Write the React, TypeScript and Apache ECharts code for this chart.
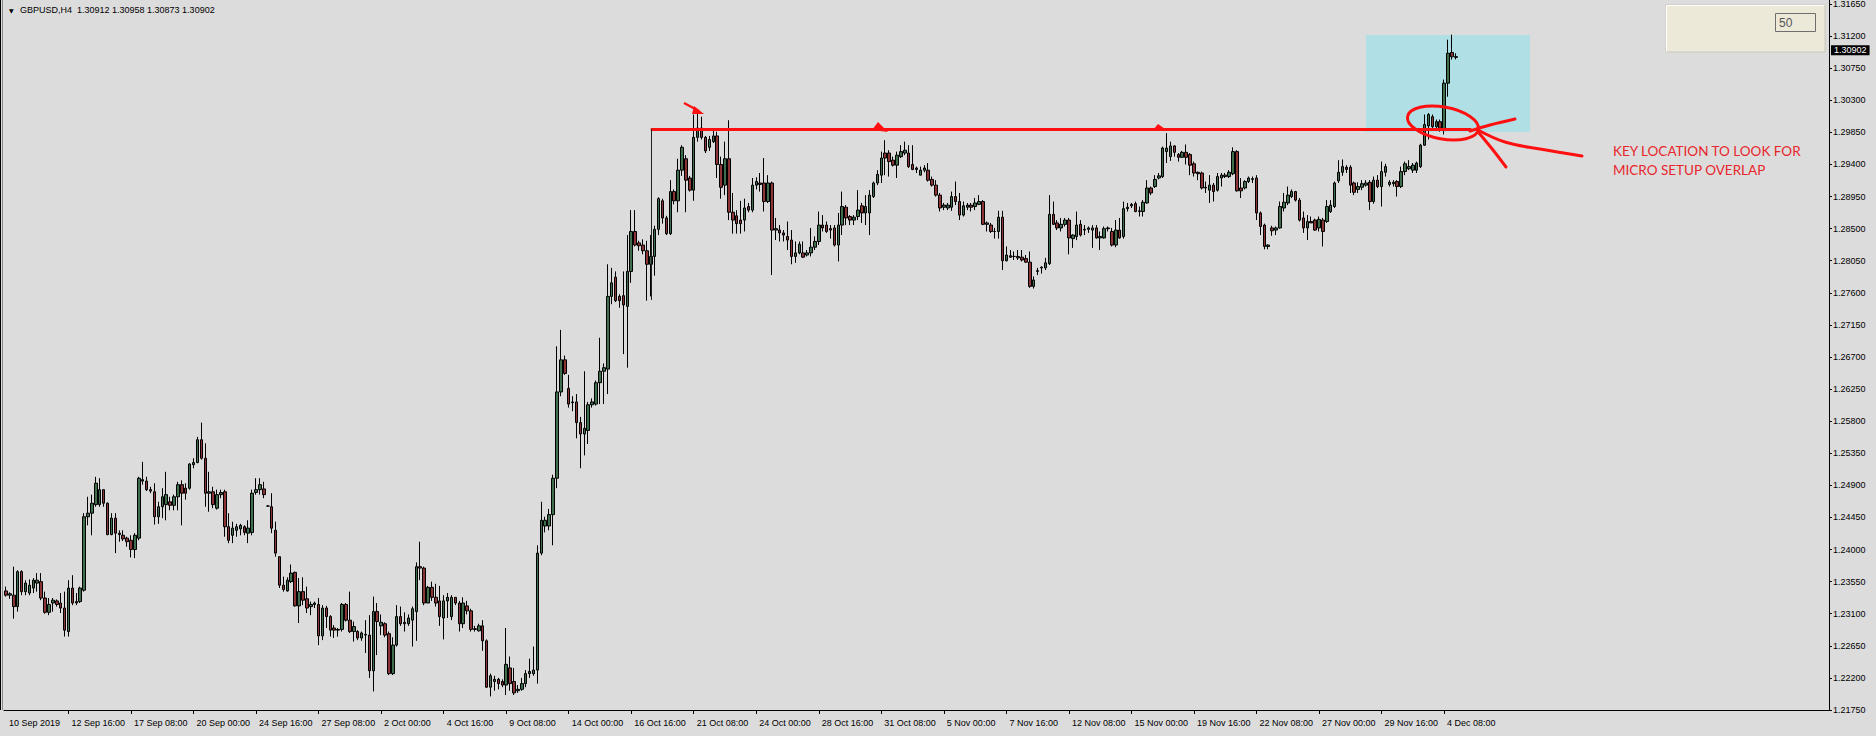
import React, { useEffect, useRef } from "react";
import * as echarts from "echarts";

// ---------- DATA (GBPUSD, H4) ----------
const OPEN = [
1.2342,1.2336,1.2336,1.2320,1.2369,1.2341,1.2339,1.2346,1.2353,1.2355,
1.2332,1.2312,1.2325,1.2328,1.2325,1.2318,1.2285,1.2346,1.2325,1.2327,
1.2343,1.2446,1.2451,1.2463,1.2463,1.2484,1.2465,1.2421,1.2444,1.2423,
1.2420,1.2416,1.2413,1.2400,1.2416,1.2498,1.2496,1.2484,1.2481,1.2446,
1.2460,1.2463,1.2467,1.2462,1.2474,1.2491,1.2486,1.2486,1.2519,1.2522,
1.2554,1.2528,1.2479,1.2481,1.2458,1.2477,1.2481,1.2432,1.2420,1.2427,
1.2429,1.2432,1.2423,1.2424,1.2480,1.2484,1.2485,1.2461,1.2460,1.2427,
1.2390,1.2350,1.2342,1.2355,1.2368,1.2321,1.2341,1.2331,1.2320,1.2323,
1.2323,1.2279,1.2318,1.2306,1.2290,1.2287,1.2288,1.2323,1.2301,1.2285,
1.2285,1.2276,1.2281,1.2280,1.2230,1.2313,1.2293,1.2296,1.2282,1.2226,
1.2266,1.2306,1.2296,1.2296,1.2301,1.2313,1.2376,1.2374,1.2325,1.2347,
1.2333,1.2328,1.2304,1.2328,1.2306,1.2333,1.2325,1.2296,1.2321,1.2314,
1.2288,1.2286,1.2293,1.2272,1.2207,1.2215,1.2218,1.2215,1.2210,1.2234,
1.2215,1.2202,1.2204,1.2212,1.2226,1.2226,1.2231,1.2395,1.2433,1.2433,
1.2449,1.2500,1.2621,1.2666,1.2626,1.2607,1.2607,1.2578,1.2562,1.2567,
1.2603,1.2604,1.2634,1.2650,1.2653,1.2755,1.2782,1.2755,1.2756,1.2741,
1.2790,1.2846,1.2830,1.2827,1.2819,1.2800,1.2811,1.2849,1.2889,1.2865,
1.2843,1.2902,1.2889,1.2932,1.2948,1.2921,1.2904,1.2978,1.2991,1.2978,
1.2964,1.2972,1.2980,1.2940,1.2911,1.2948,1.2873,1.2868,1.2862,1.2862,
1.2881,1.2876,1.2911,1.2914,1.2914,1.2888,1.2914,1.2848,1.2848,1.2844,
1.2839,1.2834,1.2811,1.2816,1.2816,1.2813,1.2816,1.2824,1.2832,1.2855,
1.2855,1.2850,1.2851,1.2827,1.2855,1.2880,1.2867,1.2862,1.2867,1.2882,
1.2872,1.2872,1.2895,1.2914,1.2925,1.2956,1.2956,1.2946,1.2939,1.2951,
1.2956,1.2956,1.2940,1.2933,1.2925,1.2932,1.2932,1.2919,1.2911,1.2897,
1.2880,1.2879,1.2880,1.2895,1.2888,1.2869,1.2880,1.2883,1.2881,1.2884,
1.2888,1.2856,1.2855,1.2846,1.2846,1.2866,1.2805,1.2812,1.2811,1.2811,
1.2810,1.2808,1.2803,1.2769,1.2790,1.2795,1.2795,1.2801,1.2870,1.2858,
1.2851,1.2856,1.2862,1.2836,1.2839,1.2856,1.2848,1.2849,1.2848,1.2851,
1.2837,1.2837,1.2850,1.2846,1.2827,1.2848,1.2839,1.2878,1.2884,1.2885,
1.2874,1.2874,1.2886,1.2907,1.2909,1.2921,1.2923,1.2958,1.2951,1.2966,
1.2954,1.2950,1.2957,1.2954,1.2941,1.2929,1.2928,1.2907,1.2904,1.2911,
1.2904,1.2921,1.2925,1.2923,1.2927,1.2958,1.2907,1.2907,1.2916,1.2920,
1.2921,1.2872,1.2855,1.2825,1.2851,1.2848,1.2851,1.2879,1.2886,1.2895,
1.2902,1.2890,1.2865,1.2851,1.2860,1.2862,1.2851,1.2862,1.2860,1.2874,
1.2881,1.2917,1.2929,1.2936,1.2936,1.2914,1.2905,1.2908,1.2911,1.2915,
1.2888,1.2918,1.2909,1.2929,1.2912,1.2913,1.2916,1.2909,1.2930,1.2934,
1.2932,1.2932,1.2937,1.2967,1.2994,1.3007,1.2993,1.3000,1.2989,1.3054,
1.3097,1.30912
];
const HIGH = [
1.2348,1.2340,1.2376,1.2371,1.2371,1.2357,1.2358,1.2360,1.2367,1.2367,
1.2341,1.2332,1.2332,1.2330,1.2339,1.2341,1.2357,1.2364,1.2339,1.2348,
1.2451,1.2474,1.2477,1.2502,1.2500,1.2484,1.2466,1.2451,1.2451,1.2427,
1.2427,1.2418,1.2420,1.2423,1.2502,1.2523,1.2502,1.2488,1.2493,1.2467,
1.2486,1.2509,1.2474,1.2477,1.2495,1.2497,1.2493,1.2521,1.2528,1.2558,
1.2578,1.2549,1.2509,1.2488,1.2484,1.2484,1.2484,1.2451,1.2439,1.2436,
1.2436,1.2434,1.2441,1.2484,1.2500,1.2500,1.2495,1.2462,1.2479,1.2439,
1.2390,1.2362,1.2361,1.2379,1.2369,1.2360,1.2361,1.2348,1.2327,1.2327,
1.2332,1.2322,1.2321,1.2308,1.2294,1.2290,1.2325,1.2325,1.2341,1.2299,
1.2287,1.2285,1.2301,1.2308,1.2334,1.2325,1.2309,1.2298,1.2285,1.2277,
1.2322,1.2320,1.2312,1.2309,1.2320,1.2382,1.2411,1.2376,1.2349,1.2355,
1.2352,1.2349,1.2336,1.2339,1.2336,1.2333,1.2328,1.2333,1.2328,1.2317,
1.2293,1.2296,1.2301,1.2274,1.2226,1.2223,1.2220,1.2218,1.2290,1.2250,
1.2234,1.2210,1.2220,1.2231,1.2247,1.2264,1.2406,1.2467,1.2446,1.2457,
1.2505,1.2685,1.2708,1.2672,1.2645,1.2615,1.2618,1.2586,1.2650,1.2607,
1.2612,1.2637,1.2697,1.2661,1.2800,1.2795,1.2790,1.2758,1.2790,1.2841,
1.2876,1.2876,1.2833,1.2835,1.2833,1.2841,1.2854,1.2894,1.2892,1.2868,
1.2918,1.2905,1.2948,1.2967,1.2953,1.2924,1.3010,1.3013,1.3007,1.2980,
1.2980,1.2988,1.2986,1.2951,1.2972,1.3002,1.2900,1.2876,1.2889,1.2892,
1.2886,1.2921,1.2922,1.2928,1.2949,1.2925,1.2916,1.2865,1.2855,1.2848,
1.2860,1.2848,1.2832,1.2832,1.2832,1.2820,1.2851,1.2839,1.2874,1.2869,
1.2860,1.2855,1.2855,1.2872,1.2902,1.2883,1.2869,1.2869,1.2904,1.2886,
1.2897,1.2904,1.2916,1.2932,1.2958,1.2974,1.2960,1.2951,1.2958,1.2967,
1.2972,1.2967,1.2967,1.2937,1.2937,1.2939,1.2942,1.2923,1.2918,1.2900,
1.2886,1.2886,1.2902,1.2916,1.2900,1.2888,1.2886,1.2886,1.2893,1.2897,
1.2890,1.2860,1.2858,1.2851,1.2875,1.2875,1.2825,1.2820,1.2818,1.2820,
1.2820,1.2813,1.2818,1.2783,1.2795,1.2797,1.2809,1.2897,1.2888,1.2862,
1.2865,1.2865,1.2865,1.2842,1.2874,1.2862,1.2855,1.2853,1.2855,1.2855,
1.2846,1.2853,1.2853,1.2851,1.2862,1.2865,1.2888,1.2886,1.2886,1.2888,
1.2881,1.2890,1.2918,1.2909,1.2925,1.2928,1.2965,1.2984,1.2972,1.2967,
1.2956,1.2959,1.2968,1.2956,1.2944,1.2930,1.2930,1.2916,1.2925,1.2914,
1.2928,1.2928,1.2928,1.2932,1.2964,1.2960,1.2921,1.2918,1.2923,1.2923,
1.2925,1.2874,1.2857,1.2828,1.2854,1.2853,1.2888,1.2900,1.2909,1.2905,
1.2903,1.2893,1.2874,1.2869,1.2867,1.2864,1.2867,1.2865,1.2890,1.2890,
1.2916,1.2946,1.2947,1.2939,1.2939,1.2916,1.2915,1.2918,1.2918,1.2918,
1.2923,1.2925,1.2944,1.2941,1.2918,1.2918,1.2918,1.2937,1.2944,1.2946,
1.2942,1.2944,1.2969,1.3010,1.3012,1.3010,1.3003,1.3003,1.3059,1.3115,
1.3122,1.30958
];
const LOW = [
1.2334,1.2331,1.2303,1.2313,1.2336,1.2336,1.2336,1.2339,1.2341,1.2329,
1.2310,1.2308,1.2313,1.2320,1.2311,1.2278,1.2278,1.2322,1.2322,1.2325,
1.2341,1.2434,1.2420,1.2460,1.2460,1.2460,1.2420,1.2420,1.2395,1.2411,
1.2412,1.2404,1.2389,1.2388,1.2413,1.2491,1.2482,1.2479,1.2435,1.2436,
1.2444,1.2441,1.2455,1.2455,1.2455,1.2434,1.2470,1.2484,1.2514,1.2521,
1.2526,1.2460,1.2453,1.2458,1.2456,1.2472,1.2418,1.2409,1.2409,1.2418,
1.2420,1.2420,1.2409,1.2420,1.2477,1.2477,1.2472,1.2460,1.2423,1.2390,
1.2346,1.2341,1.2341,1.2353,1.2320,1.2297,1.2322,1.2311,1.2308,1.2318,
1.2266,1.2273,1.2290,1.2278,1.2276,1.2278,1.2285,1.2299,1.2283,1.2271,
1.2273,1.2272,1.2255,1.2220,1.2201,1.2252,1.2280,1.2277,1.2224,1.2224,
1.2264,1.2293,1.2285,1.2293,1.2264,1.2272,1.2357,1.2322,1.2325,1.2328,
1.2320,1.2293,1.2274,1.2304,1.2301,1.2322,1.2285,1.2290,1.2309,1.2285,
1.2285,1.2285,1.2258,1.2206,1.2194,1.2202,1.2204,1.2207,1.2196,1.2202,
1.2196,1.2199,1.2202,1.2207,1.2220,1.2223,1.2212,1.2392,1.2424,1.2427,
1.2406,1.2486,1.2615,1.2645,1.2599,1.2594,1.2556,1.2514,1.2532,1.2548,
1.2599,1.2602,1.2604,1.2604,1.2618,1.2744,1.2747,1.2739,1.2674,1.2655,
1.2774,1.2825,1.2819,1.2814,1.2749,1.2755,1.2784,1.2841,1.2857,1.2841,
1.2841,1.2884,1.2873,1.2924,1.2873,1.2902,1.2889,1.2972,1.2975,1.2956,
1.2959,1.2970,1.2921,1.2892,1.2897,1.2862,1.2843,1.2843,1.2843,1.2846,
1.2873,1.2873,1.2905,1.2902,1.2874,1.2886,1.2785,1.2834,1.2832,1.2832,
1.2820,1.2800,1.2802,1.2814,1.2809,1.2811,1.2811,1.2820,1.2827,1.2846,
1.2844,1.2836,1.2825,1.2804,1.2841,1.2855,1.2855,1.2855,1.2862,1.2858,
1.2855,1.2841,1.2893,1.2911,1.2914,1.2925,1.2923,1.2937,1.2921,1.2949,
1.2953,1.2935,1.2932,1.2928,1.2925,1.2929,1.2916,1.2909,1.2895,1.2874,
1.2876,1.2876,1.2875,1.2883,1.2862,1.2867,1.2876,1.2874,1.2876,1.2883,
1.2855,1.2846,1.2844,1.2836,1.2836,1.2792,1.2804,1.2809,1.2806,1.2806,
1.2804,1.2802,1.2767,1.2766,1.2785,1.2787,1.2792,1.2799,1.2855,1.2848,
1.2846,1.2853,1.2814,1.2823,1.2834,1.2839,1.2841,1.2844,1.2823,1.2836,
1.2820,1.2836,1.2846,1.2825,1.2824,1.2836,1.2836,1.2874,1.2879,1.2873,
1.2867,1.2867,1.2885,1.2897,1.2907,1.2919,1.2921,1.2942,1.2945,1.2951,
1.2944,1.2949,1.2940,1.2925,1.2923,1.2918,1.2905,1.2900,1.2886,1.2888,
1.2902,1.2909,1.2921,1.2921,1.2925,1.2902,1.2893,1.2905,1.2914,1.2914,
1.2862,1.2841,1.2821,1.2821,1.2840,1.2841,1.2850,1.2874,1.2883,1.2893,
1.2888,1.2860,1.2844,1.2834,1.2858,1.2847,1.2846,1.2825,1.2858,1.2872,
1.2879,1.2914,1.2924,1.2928,1.2900,1.2897,1.2900,1.2904,1.2909,1.2876,
1.2885,1.2907,1.2881,1.2923,1.2909,1.2909,1.2895,1.2907,1.2925,1.2932,
1.2928,1.2928,1.2935,1.2966,1.2975,1.2989,1.2989,1.2986,1.2982,1.3035,
1.3087,1.30873
];
const CLOSE = [
1.2336,1.2338,1.2320,1.2369,1.2341,1.2353,1.2350,1.2357,1.2357,1.2332,
1.2312,1.2323,1.2329,1.2323,1.2318,1.2287,1.2346,1.2325,1.2327,1.2346,
1.2446,1.2451,1.2465,1.2493,1.2484,1.2465,1.2421,1.2444,1.2423,1.2421,
1.2415,1.2411,1.2400,1.2420,1.2500,1.2496,1.2484,1.2482,1.2446,1.2460,
1.2474,1.2477,1.2462,1.2474,1.2491,1.2479,1.2479,1.2520,1.2522,1.2554,
1.2528,1.2479,1.2481,1.2463,1.2477,1.2480,1.2432,1.2413,1.2430,1.2432,
1.2434,1.2424,1.2430,1.2479,1.2484,1.2491,1.2477,1.2461,1.2430,1.2395,
1.2350,1.2344,1.2357,1.2367,1.2321,1.2341,1.2329,1.2318,1.2323,1.2325,
1.2279,1.2318,1.2306,1.2287,1.2287,1.2288,1.2323,1.2301,1.2285,1.2292,
1.2276,1.2283,1.2280,1.2230,1.2313,1.2299,1.2298,1.2280,1.2226,1.2266,
1.2306,1.2296,1.2298,1.2304,1.2317,1.2376,1.2374,1.2325,1.2347,1.2333,
1.2325,1.2306,1.2328,1.2333,1.2333,1.2325,1.2296,1.2325,1.2314,1.2288,
1.2289,1.2293,1.2272,1.2207,1.2223,1.2218,1.2212,1.2210,1.2239,1.2212,
1.2199,1.2204,1.2212,1.2226,1.2229,1.2231,1.2395,1.2441,1.2441,1.2449,
1.2500,1.2621,1.2666,1.2647,1.2604,1.2606,1.2578,1.2562,1.2570,1.2603,
1.2607,1.2634,1.2650,1.2655,1.2755,1.2774,1.2749,1.2749,1.2743,1.2790,
1.2846,1.2827,1.2826,1.2819,1.2800,1.2811,1.2849,1.2892,1.2865,1.2843,
1.2902,1.2889,1.2932,1.2964,1.2918,1.2904,1.2978,1.2991,1.2978,1.2959,
1.2975,1.2980,1.2940,1.2908,1.2948,1.2873,1.2862,1.2857,1.2857,1.2879,
1.2876,1.2911,1.2916,1.2912,1.2888,1.2914,1.2848,1.2850,1.2844,1.2841,
1.2834,1.2811,1.2816,1.2828,1.2810,1.2816,1.2824,1.2832,1.2855,1.2851,
1.2846,1.2848,1.2827,1.2855,1.2881,1.2865,1.2862,1.2866,1.2876,1.2872,
1.2881,1.2897,1.2914,1.2926,1.2949,1.2949,1.2944,1.2939,1.2953,1.2958,
1.2960,1.2937,1.2933,1.2935,1.2932,1.2935,1.2918,1.2911,1.2897,1.2879,
1.2883,1.2883,1.2895,1.2888,1.2869,1.2882,1.2883,1.2880,1.2886,1.2888,
1.2856,1.2858,1.2846,1.2846,1.2866,1.2805,1.2813,1.2810,1.2811,1.2809,
1.2806,1.2803,1.2769,1.2778,1.2791,1.2796,1.2802,1.2870,1.2856,1.2851,
1.2856,1.2862,1.2837,1.2841,1.2855,1.2841,1.2849,1.2851,1.2851,1.2837,
1.2839,1.2850,1.2851,1.2827,1.2848,1.2837,1.2878,1.2880,1.2882,1.2874,
1.2875,1.2887,1.2907,1.2900,1.2919,1.2924,1.2963,1.2963,1.2966,1.2957,
1.2950,1.2957,1.2950,1.2939,1.2928,1.2927,1.2907,1.2908,1.2911,1.2902,
1.2923,1.2925,1.2923,1.2929,1.2958,1.2903,1.2903,1.2916,1.2921,1.2919,
1.2872,1.2853,1.2825,1.2827,1.2847,1.2851,1.2881,1.2887,1.2897,1.2902,
1.2890,1.2862,1.2851,1.2860,1.2858,1.2848,1.2863,1.2846,1.2881,1.2883,
1.2914,1.2929,1.2937,1.2933,1.2911,1.2901,1.2909,1.2913,1.2914,1.2888,
1.2918,1.2909,1.2930,1.2937,1.2915,1.2915,1.2909,1.2930,1.2941,1.2937,
1.2939,1.2942,1.2967,1.2996,1.3010,1.2993,1.3000,1.2991,1.3054,1.3096,
1.3091,1.30902
];

// time-axis labels, one every 16 H4 bars
const TIME_LABELS = [
  "10 Sep 2019", "12 Sep 16:00", "17 Sep 08:00", "20 Sep 00:00", "24 Sep 16:00",
  "27 Sep 08:00", "2 Oct 00:00", "4 Oct 16:00", "9 Oct 08:00", "14 Oct 00:00",
  "16 Oct 16:00", "21 Oct 08:00", "24 Oct 00:00", "28 Oct 16:00", "31 Oct 08:00",
  "5 Nov 00:00", "7 Nov 16:00", "12 Nov 08:00", "15 Nov 00:00", "19 Nov 16:00",
  "22 Nov 08:00", "27 Nov 00:00", "29 Nov 16:00", "4 Dec 08:00"
];
const LABEL_STEP = 16;

const HEADER = "GBPUSD,H4  1.30912 1.30958 1.30873 1.30902";
const LAST_PRICE = 1.30902;
const PRICE_MIN = 1.2175;
const PRICE_MAX = 1.3165;
const PRICE_STEP = 0.0045;

// annotation levels (price) and bar indices
const RESIST_LEVEL = 1.29895;
const RESIST_FROM = 165;
const RESIST_TO = 375;
const VLINE_LOW = 1.2750;
const ZONE = { fromBar: 348, toBar: 390, top: 1.31215, bottom: 1.29855 };
const NOTE = ["KEY LOCATION TO LOOK FOR", "MICRO SETUP OVERLAP"];
const PANEL_VALUE = "50";

const TOTAL_SLOTS = 467; // bars + right-side shift area

// H4 timestamps, trading days only
function buildCategories(): string[] {
  const out: string[] = [];
  let t = Date.UTC(2019, 8, 10, 0, 0);
  while (out.length < TOTAL_SLOTS) {
    const d = new Date(t);
    const wd = d.getUTCDay();
    if (wd !== 0 && wd !== 6) out.push(d.toISOString().slice(0, 16));
    t += 4 * 3600 * 1000;
  }
  return out;
}

const AXIS_FONT = '"Liberation Sans", Arial, sans-serif';
const AXIS_SIZE = 9;
const BULL = "#3f6e4d";
const BEAR = "#8a3434";
const RED = "#ff1010";

export default function App() {
  const ref = useRef<HTMLDivElement>(null);
  useEffect(() => {
    if (!ref.current) return;
    const chart = echarts.init(ref.current, undefined, { renderer: "svg" });
    const cats = buildCategories();
    const n = CLOSE.length;
    const candles = OPEN.map((o, i) => [o, CLOSE[i], LOW[i], HIGH[i]]);

    const option: any = {
      animation: false,
      backgroundColor: "#dcdcdc",
      grid: { left: 4, right: 47, top: 4, bottom: 26, outerBoundsMode: "none", containLabel: false },
      xAxis: {
        type: "category",
        data: cats,
        boundaryGap: true,
        axisLine: { show: true, lineStyle: { color: "#000", width: 1 } },
        axisTick: {
          show: true,
          alignWithLabel: true,
          length: 4,
          interval: (i: number) => i > 0 && i < n && i % LABEL_STEP === 0,
          lineStyle: { color: "#000" },
        },
        axisLabel: {
          show: true,
          interval: (i: number) => i < n && i % LABEL_STEP === 0,
          formatter: (_v: string, i: number) => TIME_LABELS[i / LABEL_STEP] ?? "",
          align: "left",
          padding: [0, 0, 0, 3],
          margin: 8,
          fontSize: AXIS_SIZE,
          fontFamily: AXIS_FONT,
          color: "#000",
        },
        splitLine: { show: false },
      },
      yAxis: {
        type: "value",
        position: "right",
        min: PRICE_MIN,
        max: PRICE_MAX,
        interval: PRICE_STEP,
        axisLine: { show: true, lineStyle: { color: "#000", width: 1 } },
        axisTick: { show: true, length: 3, lineStyle: { color: "#000" } },
        axisLabel: {
          formatter: (v: number) => v.toFixed(5),
          fontSize: AXIS_SIZE,
          margin: 4,
          fontFamily: AXIS_FONT,
          color: "#000",
        },
        splitLine: { show: false },
      },
      series: [
        {
          type: "candlestick",
          data: candles,
          barWidth: 3,
          z: 2,
          itemStyle: {
            color: BULL,
            color0: BEAR,
            borderColor: "#000",
            borderColor0: "#000",
            borderWidth: 1,
          },
          markArea: {
            silent: true,
            z: 1,
            itemStyle: { color: "#b0e0e6", opacity: 1 },
            data: [[
              { coord: [ZONE.fromBar, ZONE.top] },
              { coord: [ZONE.toBar, ZONE.bottom] },
            ]],
          },
          markLine: {
            silent: true,
            symbol: "none",
            z: 5,
            label: { show: false },
            data: [
              [
                { coord: [RESIST_FROM, RESIST_LEVEL], lineStyle: { color: RED, width: 3, type: "solid" } },
                { coord: [RESIST_TO, RESIST_LEVEL] },
              ],
              [
                { coord: [RESIST_FROM, RESIST_LEVEL], lineStyle: { color: "#222", width: 1, type: "solid" } },
                { coord: [RESIST_FROM, VLINE_LOW] },
              ],
              {
                yAxis: LAST_PRICE,
                lineStyle: { color: "rgba(0,0,0,0)", width: 0 },
                label: {
                  show: true,
                  position: "end",
                  formatter: LAST_PRICE.toFixed(5),
                  color: "#fff",
                  backgroundColor: "#000",
                  padding: [1, 3, 0, 3],
                  fontSize: AXIS_SIZE,
                  fontFamily: AXIS_FONT,
                  distance: 2,
                },
              },
            ],
          },
        },
      ],
      graphic: [
        // left border
        { type: "line", z: 50, shape: { x1: 0.5, y1: 0, x2: 0.5, y2: 710 }, style: { stroke: "#000", lineWidth: 1 } },
        { type: "line", z: 50, shape: { x1: 2.5, y1: 0, x2: 2.5, y2: 710 }, style: { stroke: "#8a8a8a", lineWidth: 1 } },
        { type: "line", z: 50, shape: { x1: 1829.5, y1: 0, x2: 1829.5, y2: 5 }, style: { stroke: "#000", lineWidth: 1 } },
        // header
        { type: "text", z: 50, x: 9, y: 10, style: { text: "\u25BC", fill: "#000", font: `6px "DejaVu Sans", sans-serif`, verticalAlign: "middle" } },
        { type: "text", z: 50, x: 20, y: 10, style: { text: HEADER, fill: "#000", font: `${AXIS_SIZE}px ${AXIS_FONT}`, verticalAlign: "middle" } },
        // top-right panel
        { type: "rect", z: 50, shape: { x: 1666, y: 5, width: 159, height: 47 }, style: { fill: "#ece9d8", stroke: "#c9c6b8", lineWidth: 1 } },
        { type: "polyline", z: 51, shape: { points: [[1666.5, 51.5], [1666.5, 5.5], [1824.5, 5.5]] }, style: { stroke: "#ffffff", lineWidth: 1, fill: "none" } },
        { type: "rect", z: 51, shape: { x: 1775.5, y: 13.5, width: 40, height: 18 }, style: { fill: "#ece9d8", stroke: "#6e6e6e", lineWidth: 1 } },
        { type: "text", z: 52, x: 1779, y: 23, style: { text: PANEL_VALUE, fill: "#555", font: '12px "Liberation Sans", Arial, sans-serif', verticalAlign: "middle" } },
        // small red arrow at the October high
        { type: "polyline", z: 60, shape: { points: [[684, 103], [699, 111]] }, style: { stroke: RED, lineWidth: 2, fill: "none" } },
        { type: "polygon", z: 60, shape: { points: [[694, 106], [704, 114], [692, 114]] }, style: { fill: RED } },
        // arrow heads on the level
        { type: "polygon", z: 60, shape: { points: [[872, 130], [878, 122], [888, 132]] }, style: { fill: RED } },
        { type: "polygon", z: 60, shape: { points: [[1153, 130], [1158, 124], [1168, 131]] }, style: { fill: RED } },
        // hand-drawn circle + strokes
        { type: "ellipse", z: 60, x: 1443, y: 123, rotation: -0.18, shape: { cx: 0, cy: 0, rx: 36, ry: 16 }, style: { stroke: RED, lineWidth: 3, fill: "none" } },
        { type: "polyline", z: 60, shape: { points: [[1470, 131], [1490, 125], [1515, 119]], smooth: 0.4 }, style: { stroke: RED, lineWidth: 3, fill: "none", lineCap: "round" } },
        { type: "polyline", z: 60, shape: { points: [[1478, 130], [1505, 142], [1540, 149], [1582, 156]], smooth: 0.4 }, style: { stroke: RED, lineWidth: 3, fill: "none", lineCap: "round" } },
        { type: "polyline", z: 60, shape: { points: [[1479, 133], [1493, 150], [1506, 167]], smooth: 0.3 }, style: { stroke: RED, lineWidth: 3, fill: "none", lineCap: "round" } },
        // note
        { type: "text", z: 60, x: 1613, y: 151, style: { text: NOTE[0], fill: "#e8262b", font: '13.5px Lato, "Open Sans", sans-serif', verticalAlign: "middle" } },
        { type: "text", z: 60, x: 1613, y: 170, style: { text: NOTE[1], fill: "#e8262b", font: '13.5px Lato, "Open Sans", sans-serif', verticalAlign: "middle" } },
      ],
    };
    chart.setOption(option);
    return () => chart.dispose();
  }, []);
  return <div ref={ref} style={{ position: "fixed", left: 0, top: 0, width: 1876, height: 736 }} />;
}
